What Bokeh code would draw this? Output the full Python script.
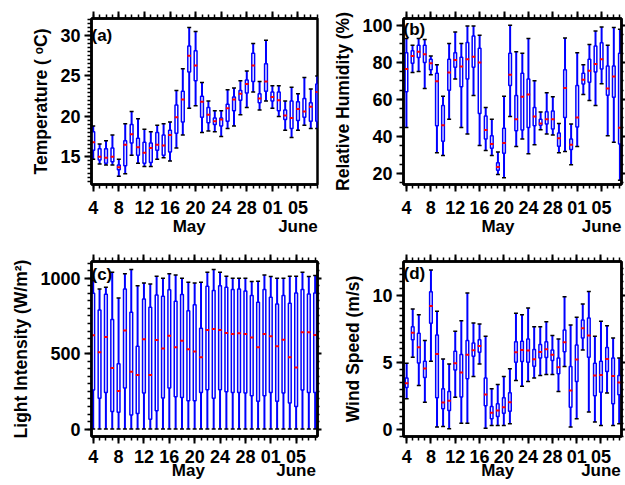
from bokeh.plotting import figure
from bokeh.models import (Range1d, LinearAxis, FixedTicker, SingleIntervalTicker, Label,
                          ColumnDataSource, CustomLabelingPolicy)
from bokeh.layouts import gridplot
from bokeh.embed import file_html
from bokeh.resources import INLINE

# ---------------- data (day of May; 32 = June 1) ----------------
days = [4, 5, 6, 7, 8, 9, 10, 11, 12, 13, 14, 15, 16, 17, 18, 19, 20, 21,
        22, 23, 24, 25, 26, 27, 28, 29, 30, 31, 32, 33, 34, 35, 36, 37, 38, 39]
x_tick_days = [4, 8, 12, 16, 20, 24, 28, 32, 36]
x_tick_labels = ["4", "8", "12", "16", "20", "24", "28", "01", "05"]
month_days = [19, 36]
month_labels = ["May", "June"]

# (a) Temperature (degC)
temp_hi  = [18.8, 16.6, 17.0, 17.7, 14.7, 19.1, 20.6, 19.7, 18.4, 18.1, 18.9, 19.1, 19.3, 23.2, 25.9, 31.0, 30.5, 24.2,
            21.9, 20.7, 20.7, 23.3, 23.5, 24.4, 25.6, 29.0, 24.3, 29.4, 23.8, 23.8, 21.9, 23.6, 22.8, 24.8, 23.4, 25.0]
temp_q3  = [18.1, 16.0, 16.0, 16.1, 14.0, 17.0, 19.0, 17.3, 16.8, 16.7, 18.0, 17.7, 18.3, 21.4, 23.1, 28.7, 28.1, 22.5,
            21.1, 19.8, 19.8, 21.5, 22.4, 23.2, 24.5, 27.8, 22.8, 26.5, 23.0, 23.0, 20.8, 21.9, 21.8, 22.2, 21.7, 24.0]
temp_med = [16.8, 15.0, 14.9, 15.0, 13.7, 16.5, 17.8, 16.2, 15.5, 16.1, 16.5, 16.4, 17.7, 19.9, 22.1, 27.5, 26.3, 21.8,
            20.2, 19.4, 19.6, 21.0, 22.1, 22.8, 24.0, 26.3, 22.2, 24.3, 22.4, 22.0, 20.1, 19.8, 20.9, 20.6, 21.2, 23.0]
temp_q1  = [15.8, 14.6, 14.2, 14.4, 13.4, 13.9, 16.7, 15.2, 14.2, 14.3, 15.8, 15.2, 15.6, 17.9, 19.3, 25.5, 24.4, 19.9,
            19.2, 19.0, 18.8, 19.4, 20.7, 22.0, 22.9, 24.3, 21.7, 23.1, 21.9, 20.7, 19.6, 18.5, 19.5, 19.9, 19.4, 19.4]
temp_lo  = [14.7, 14.1, 14.0, 14.0, 12.6, 12.9, 15.2, 14.2, 13.8, 13.8, 14.7, 14.9, 14.5, 16.1, 17.7, 21.0, 21.3, 18.0,
            18.2, 18.1, 17.5, 18.5, 18.8, 20.2, 21.1, 23.0, 20.8, 21.9, 21.0, 20.0, 18.3, 17.4, 18.3, 18.9, 18.5, 18.5]

# (b) Relative humidity (%)
rh_hi  = [92.9, 89.3, 92.9, 92.4, 83.5, 78.7, 61.8, 90.2, 96.4, 90.2, 99.6, 99.6, 94.7, 55.6, 49.3, 31.6, 61.8, 100.0,
          85.8, 84.9, 92.9, 70.1, 53.2, 63.6, 61.4, 47.0, 93.2, 46.7, 85.2, 78.7, 89.7, 97.0, 99.1, 89.3, 98.8, 97.9]
rh_q3  = [85.2, 86.3, 89.3, 89.3, 81.7, 74.2, 56.8, 81.7, 85.2, 82.8, 90.8, 94.3, 87.6, 51.1, 40.4, 25.9, 44.5, 84.9,
          62.1, 74.2, 71.0, 55.6, 49.3, 53.4, 53.8, 41.9, 76.0, 38.7, 67.6, 74.2, 81.7, 88.8, 90.6, 78.1, 78.1, 84.9]
rh_med = [76.4, 83.5, 85.8, 84.4, 79.6, 69.8, 46.1, 74.6, 81.3, 77.8, 81.7, 83.1, 79.9, 43.5, 36.0, 23.6, 36.5, 73.3,
          49.3, 61.4, 62.7, 50.8, 47.0, 49.3, 49.3, 39.0, 66.2, 35.5, 50.2, 70.7, 75.5, 79.2, 81.7, 65.9, 72.4, 44.7]
rh_q1  = [64.1, 79.6, 82.6, 79.9, 76.0, 45.8, 37.4, 65.0, 77.4, 66.8, 71.0, 77.4, 52.4, 38.7, 33.7, 21.8, 31.0, 67.5,
          43.1, 43.5, 44.9, 45.8, 46.1, 46.7, 44.0, 34.8, 50.2, 33.0, 45.2, 68.4, 69.3, 74.8, 76.5, 62.3, 61.2, 36.0]
rh_lo  = [44.9, 74.6, 75.1, 65.9, 73.3, 31.2, 29.8, 49.3, 71.0, 44.9, 41.3, 62.1, 35.1, 32.4, 29.8, 19.5, 17.7, 50.8,
          34.6, 38.7, 30.7, 35.5, 43.6, 41.3, 40.8, 31.2, 31.9, 24.8, 34.6, 62.7, 59.5, 56.8, 68.5, 40.4, 36.9, 16.4]

# (c) Light intensity (W/m2)
li_hi  = [985, 929, 940, 1040, 869, 1029, 1058, 951, 969, 962, 1013, 1000, 1029, 1022, 1000, 973, 969, 973,
          1040, 1058, 1040, 1013, 1000, 1000, 1000, 978, 980, 1022, 1011, 1000, 1000, 1013, 1013, 1040, 1011, 1018]
li_q3  = [900, 790, 894, 726, 434, 929, 774, 549, 863, 808, 889, 881, 923, 847, 892, 785, 825, 668,
          947, 918, 951, 940, 925, 929, 916, 885, 841, 925, 874, 830, 885, 834, 903, 925, 896, 903]
li_med = [622, 509, 611, 405, 252, 653, 381, 358, 595, 358, 591, 535, 619, 542, 586, 529, 515, 476,
          657, 664, 657, 637, 631, 635, 631, 608, 542, 631, 615, 549, 593, 476, 409, 642, 642, 624]
li_q1  = [259, 204, 243, 117, 111, 272, 93, 104, 239, 66, 122, 206, 272, 215, 210, 188, 188, 243,
          261, 204, 261, 248, 243, 243, 239, 221, 184, 221, 243, 184, 239, 173, 150, 259, 243, 243]
li_lo  = [0, 0, 0, 0, 0, 0, 0, 0, 0, 0, 0, 0, 0, 0, 0, 0, 0, 0,
          0, 0, 0, 0, 0, 0, 0, 0, 0, 0, 0, 0, 0, 0, 0, 0, 0, 0]

# (d) Wind speed (m/s)
ws_hi  = [4.94, 8.96, 8.54, 6.62, 11.85, 8.79, 5.26, 4.89, 7.31, 8.10, 10.15, 7.93, 7.85, 6.94, 3.04, 3.36, 3.95, 4.52,
          8.64, 8.54, 9.04, 7.65, 7.65, 8.02, 6.99, 6.74, 9.88, 7.78, 8.35, 9.33, 10.27, 6.94, 8.05, 7.73, 6.81, 5.33]
ws_q3  = [3.85, 7.65, 7.16, 5.09, 10.25, 7.04, 3.04, 2.84, 5.83, 5.58, 6.62, 6.44, 6.69, 3.85, 1.73, 1.93, 2.37, 2.74,
          6.54, 6.57, 6.74, 5.95, 6.32, 6.54, 5.93, 5.33, 7.41, 4.69, 6.30, 8.15, 8.30, 4.94, 5.09, 6.10, 5.33, 4.02]
ws_med = [3.46, 7.21, 6.12, 4.54, 9.19, 5.63, 2.02, 2.15, 4.94, 4.25, 5.56, 5.90, 6.22, 2.62, 1.26, 1.43, 1.68, 2.05,
          5.75, 5.93, 5.88, 5.23, 5.78, 5.98, 5.56, 4.64, 6.49, 2.91, 5.21, 7.53, 6.99, 4.02, 4.07, 5.26, 4.00, 3.51]
ws_q1  = [3.14, 6.69, 4.96, 3.88, 7.90, 2.37, 1.56, 1.43, 4.44, 2.44, 3.78, 5.46, 5.75, 1.78, 0.81, 0.99, 1.23, 1.38,
          5.01, 5.06, 5.01, 4.72, 5.33, 5.36, 5.14, 4.15, 5.80, 1.68, 3.58, 6.81, 5.38, 2.52, 2.79, 4.32, 1.93, 2.59]
ws_lo  = [2.30, 5.38, 3.28, 2.05, 5.09, 0.20, 0.25, 0.07, 2.42, 0.49, 0.49, 3.95, 4.89, 0.12, 0.32, 0.32, 0.32, 0.44,
          3.65, 3.23, 3.58, 3.85, 4.02, 4.10, 4.10, 2.84, 4.69, 0.20, 0.81, 5.93, 1.31, 0.57, 0.32, 2.72, 0.32, 0.44]

FONT = "Liberation Sans"
BLUE = "#0000ff"
NO_LABELS = "for (let i = 0; i < indices.size; i++) { indices.unset(i) }\nreturn indices"


def style_axis(ax, show_labels, tick_out=7, minor_out=4, standoff=2, size="18px"):
    ax.axis_line_width = 2.5
    ax.axis_line_color = "black"
    ax.major_tick_line_width = 2
    ax.minor_tick_line_width = 1.5
    ax.major_tick_line_color = "black"
    ax.minor_tick_line_color = "black"
    ax.major_tick_out = tick_out
    ax.major_tick_in = 0
    ax.minor_tick_out = minor_out
    ax.minor_tick_in = 0
    ax.major_label_text_font = FONT
    ax.major_label_text_font_style = "bold"
    ax.major_label_text_color = "black"
    ax.major_label_standoff = standoff
    if show_labels:
        ax.major_label_text_font_size = size
    else:
        ax.major_label_text_font_size = "0px"
        ax.major_label_policy = CustomLabelingPolicy(code=NO_LABELS)
    ax.axis_label_text_font = FONT
    ax.axis_label_text_font_style = "bold"
    ax.axis_label_text_font_size = "17.5px"
    ax.axis_label_text_color = "black"


def make_panel(tag, ylabel, stats, xr, yr, y_interval, y_minor, w, h,
               borders, tag_drop, right_ticks, day_standoff, month_standoff):
    hi, q3, med, q1, lo = stats
    left, right, top, bottom = borders
    p = figure(width=w, height=h, x_range=Range1d(*xr), y_range=Range1d(*yr),
               output_backend="svg", toolbar_location=None,
               min_border_left=left, min_border_right=right,
               min_border_top=top, min_border_bottom=bottom,
               background_fill_color="white", border_fill_color="white")
    p.xgrid.visible = False
    p.ygrid.visible = False
    p.outline_line_color = "black"
    p.outline_line_width = 2.5

    src = ColumnDataSource(dict(x=days, hi=hi, q3=q3, med=med, q1=q1, lo=lo))
    p.segment(x0="x", y0="lo", x1="x", y1="hi", source=src,
              line_color=BLUE, line_width=2)
    p.scatter(x="x", y="hi", source=src, marker="dash", size=4,
              line_color="black", line_width=1.5)
    p.scatter(x="x", y="lo", source=src, marker="dash", size=4,
              line_color="black", line_width=1.5)
    p.vbar(x="x", width=0.44, top="q3", bottom="q1", source=src,
           fill_color="white", line_color=BLUE, line_width=1.5)
    p.scatter(x="x", y="med", source=src, marker="dash", size=3.5,
              line_color="red", line_width=2)

    xt = FixedTicker(ticks=x_tick_days, minor_ticks=days)
    yt = SingleIntervalTicker(interval=y_interval, num_minor_ticks=y_minor)

    xa = p.xaxis[0]
    xa.ticker = xt
    xa.major_label_overrides = {d: s for d, s in zip(x_tick_days, x_tick_labels)}
    style_axis(xa, True, standoff=day_standoff)

    # second row of the date axis: month names
    ma = LinearAxis(ticker=FixedTicker(ticks=month_days, minor_ticks=[]))
    ma.major_label_overrides = {d: s for d, s in zip(month_days, month_labels)}
    style_axis(ma, True, tick_out=0, minor_out=0, standoff=month_standoff, size="17px")
    ma.axis_line_color = None
    ma.major_tick_line_color = None
    ma.minor_tick_line_color = None
    p.add_layout(ma, "below")

    ya = p.yaxis[0]
    ya.ticker = yt
    ya.axis_label = ylabel
    ya.axis_label_standoff = 6
    style_axis(ya, True, standoff=4)

    top_ax = LinearAxis(ticker=xt)
    style_axis(top_ax, False)
    p.add_layout(top_ax, "above")

    if right_ticks:
        r_ax = LinearAxis(ticker=yt)
        style_axis(r_ax, False, tick_out=4, minor_out=2)
        p.add_layout(r_ax, "right")

    p.add_layout(Label(x=xr[0], y=yr[1], text=tag, text_align="left",
                       text_baseline="top", x_offset=0, y_offset=-tag_drop,
                       text_font=FONT, text_font_style="bold",
                       text_font_size="17px", text_color="black"))
    return p


pa = make_panel("(a)", "Temperature ( \u1d52C)",
                (temp_hi, temp_q3, temp_med, temp_q1, temp_lo),
                (3.73, 39.05), (11.58, 32.1), 5, 10, 330, 242,
                (91, 13, 16, 58), 7, False, 9, 0)
pb = make_panel("(b)", "Relative Humidity (%)",
                (rh_hi, rh_q3, rh_med, rh_q1, rh_lo),
                (3.52, 39.26), (14.1, 103.7), 20, 4, 295, 242,
                (67, 4, 18, 56), 1, True, 9, 0)
pc = make_panel("(c)", "Light Intensity (W/m\u00b2)",
                (li_hi, li_q3, li_med, li_q1, li_lo),
                (3.73, 39.37), (-49, 1111), 500, 10, 330, 243,
                (91, 12, 19, 49), 3, True, 6, -5)
pd = make_panel("(d)", "Wind Speed (m/s)",
                (ws_hi, ws_q3, ws_med, ws_q1, ws_lo),
                (3.48, 39.38), (-0.5, 12.49), 5, 10, 295, 243,
                (61, 4, 19, 49), 2, True, 6, -5)

grid = gridplot([[pa, pb], [pc, pd]], toolbar_location=None)

open("out.html", "w").write(file_html(grid, INLINE))
